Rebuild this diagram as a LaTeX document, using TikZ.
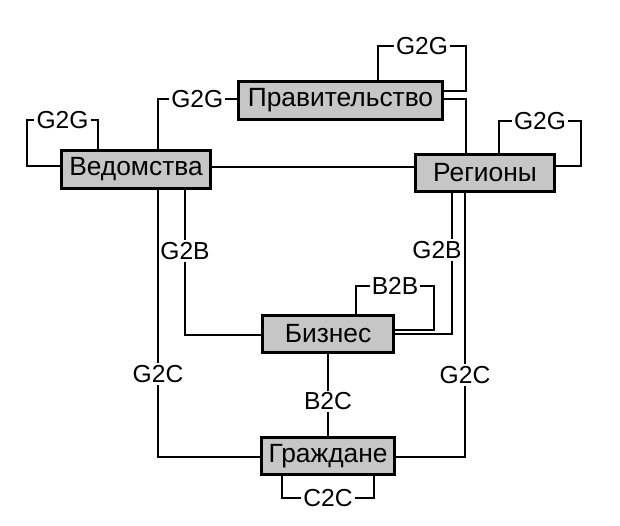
\documentclass[tikz,border=0pt]{standalone}
\usepackage{fontspec}
\setmainfont{Liberation Sans}
\usepackage{tikz}
\definecolor{boxgray}{HTML}{C6C6C6}

\begin{document}
\begin{tikzpicture}[x=0.02cm,y=-0.02cm,line width=1.1pt,
            box/.style={draw,fill=boxgray,line width=1.7pt,inner sep=0pt,
              minimum height=0.75cm,font=\fontsize{15}{17}\selectfont},
            lbl/.style={fill=white,inner sep=1.2pt,font=\fontsize{14}{16}\selectfont}]

          \useasboundingbox (0,0) rectangle (620,526);

          \node[box,minimum width=4.1cm] (gov)   at (340.5,100.5) {Правительство};
          \node[box,minimum width=3.0cm] (ved)   at (136,169.5)   {Ведомства};
          \node[box,minimum width=2.8cm] (reg)   at (485,173)     {Регионы};
          \node[box,minimum width=2.64cm] (biz)  at (328,334)     {Бизнес};
          \node[box,minimum width=2.66cm] (cit)  at (328,456)     {Граждане};

          % self loops
          \draw (ved.west |- 0,166) -- (27,166) -- (27,120)
                -- node[lbl] {G2G} (98,120) -- (98,0 |- ved.north);
          \draw (378,0 |- gov.north) -- (378,46)
                -- node[lbl] {G2G} (466,46) -- (466,91) -- (gov.east |- 0,91);
          \draw (499,0 |- reg.north) -- (499,121)
                -- node[lbl] {G2G} (581,121) -- (581,166) -- (reg.east |- 0,166);
          \draw (356,0 |- biz.north) -- (356,286)
                -- node[lbl] {B2B} (434,286) -- (434,330) -- (biz.east |- 0,330);
          \draw (282,0 |- cit.south) -- (282,498)
                -- node[lbl] {C2C} (374,498) -- (374,0 |- cit.south);

          % links
          \draw (158,0 |- ved.north) -- (158,99) -- node[lbl] {G2G} (gov.west |- 0,99);
          \draw (gov.east |- 0,99) -- (466,99) -- (466,0 |- reg.north);
          \draw (ved.east |- 0,167) -- (reg.west |- 0,167);
          \draw (185,0 |- ved.south) -- node[lbl,pos=0.42] {G2B} (185,335) -- (biz.west |- 0,335);
          \draw (452,0 |- reg.south) -- (452,334) -- (biz.east |- 0,334)
                node[lbl] at (437,250) {G2B};
          \draw (158,0 |- ved.south) -- node[lbl,pos=0.69] {G2C} (158,457) -- (cit.west |- 0,457);
          \draw (465,0 |- reg.south) -- node[lbl,pos=0.69] {G2C} (465,457) -- (cit.east |- 0,457);
          \draw (biz.south) -- node[lbl,pos=0.58] {B2C} (cit.north);
        \end{tikzpicture}
\end{document}
